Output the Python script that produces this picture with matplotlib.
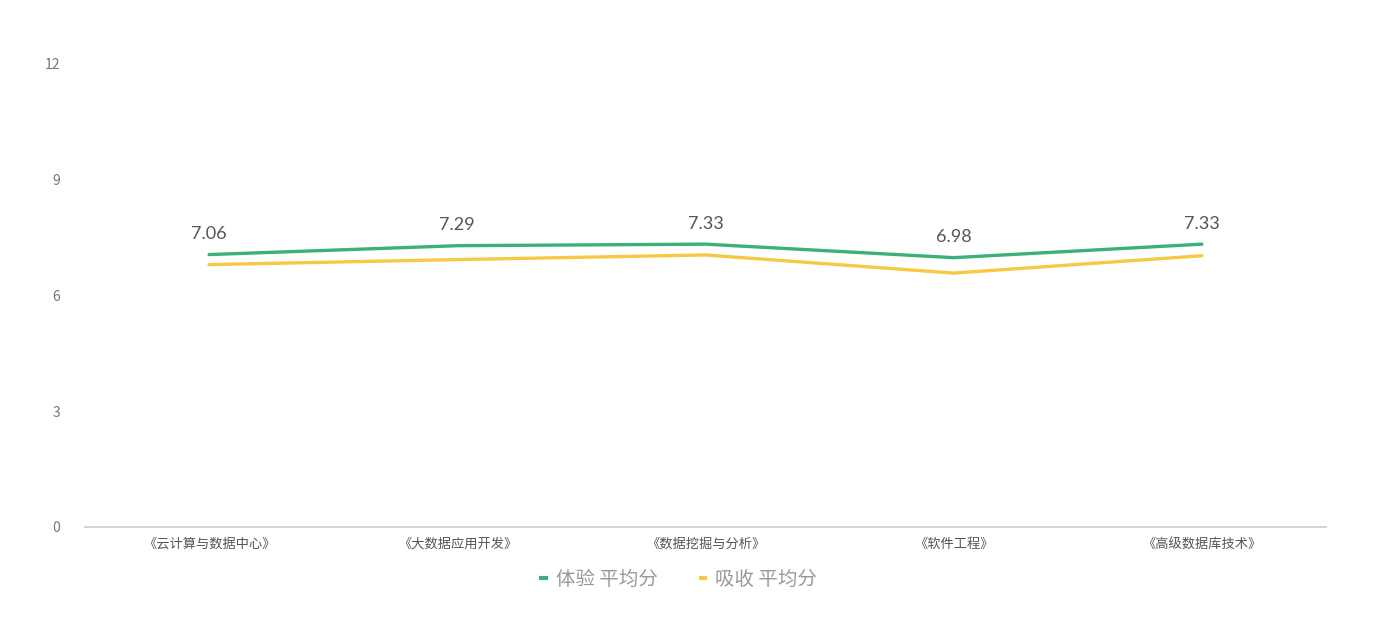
import matplotlib
matplotlib.use('Agg')
import matplotlib.pyplot as plt
from matplotlib.lines import Line2D

plt.rcParams['font.family'] = ['Noto Sans CJK SC', 'DejaVu Sans']

courses = ['《云计算与数据中心》', '《大数据应用开发》', '《数据挖掘与分析》', '《软件工程》', '《高级数据库技术》']
experience = [7.06, 7.29, 7.33, 6.98, 7.33]
absorb = [6.80, 6.93, 7.05, 6.58, 7.03]
yticks = [0, 3, 6, 9, 12]

green = '#3BB17A'
yellow = '#F6C944'

fig = plt.figure(figsize=(13.73, 6.27), dpi=100)
ax = fig.add_axes([0.0619, 0.1595, 0.9039, 0.7385])

x = list(range(len(courses)))
ax.plot(x, absorb, color=yellow, lw=2.4, solid_capstyle='round', zorder=2)
ax.plot(x, experience, color=green, lw=2.4, solid_capstyle='round', zorder=3)

for xi, v in zip(x, experience):
    ax.annotate(f'{v:.2f}', (xi, v), xytext=(0, 9), textcoords='offset points',
                ha='center', va='bottom', fontsize=13, color='#555555', family='Lato')

ax.set_xlim(-0.5, len(courses) - 0.5)
ax.set_ylim(0, 12)
ax.set_yticks(yticks)
ax.set_yticklabels([str(t) for t in yticks], color='#777777', fontsize=10)
ax.set_xticks(x)
ax.set_xticklabels(courses, color='#555555', fontsize=9.5)
ax.tick_params(axis='y', length=0, pad=18)
ax.tick_params(axis='x', length=0, pad=8)

for s in ['top', 'right', 'left']:
    ax.spines[s].set_visible(False)
ax.spines['bottom'].set_color('#CCCCCC')
ax.spines['bottom'].set_linewidth(1.2)

handles = [Line2D([], [], color=green, lw=3, solid_capstyle='butt'),
           Line2D([], [], color=yellow, lw=3, solid_capstyle='butt')]
fig.legend(handles, ['体验 平均分', '吸收 平均分'], loc='center', bbox_to_anchor=(0.494, 0.076),
           ncol=2, frameon=False, fontsize=14, labelcolor='#999999',
           handlelength=0.45, handletextpad=0.4, columnspacing=2.1)

fig.savefig('out.png', dpi=100)
